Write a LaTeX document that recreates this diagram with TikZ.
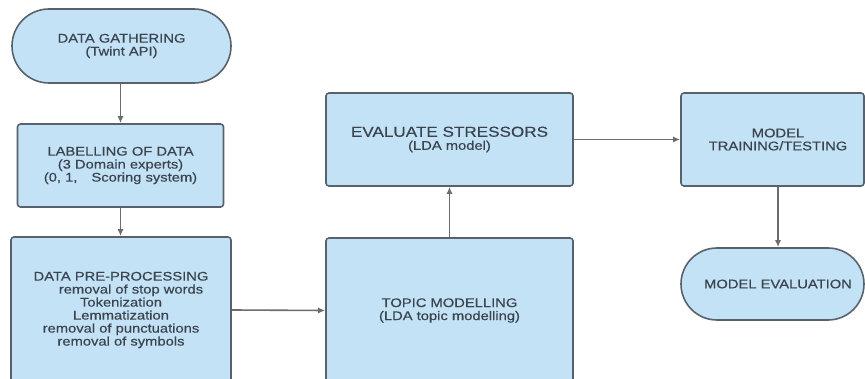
\documentclass[tikz,border=0pt]{standalone}
\usepackage{fontspec}
\setmainfont{Liberation Sans}[FakeStretch=1.18,FakeBold=0.4]
\usetikzlibrary{arrows.meta}
\definecolor{boxfill}{RGB}{196,226,245}
\definecolor{boxline}{RGB}{88,98,108}
\definecolor{txt}{RGB}{58,68,78}
\definecolor{arr}{RGB}{108,108,108}
\begin{document}
\begin{tikzpicture}[x=1pt,y=-1pt,
  box/.style={draw=boxline, fill=boxfill, line width=1.6pt, rounded corners=3pt,
    text=txt, align=center, font=\fontsize{12.5}{13}\selectfont, inner sep=0pt},
  pill/.style={box, rounded corners=#1},
  conn/.style={draw=arr, line width=1.6pt, -{Latex[length=7pt,width=6pt]}}]
\useasboundingbox (0,0) rectangle (865,379);
\clip (0,0) rectangle (865,379);

\node[pill=37pt, minimum width=219pt, minimum height=74pt] (gather) at (121.5,46)
  {DATA GATHERING\\(Twint API)};
\node[box, minimum width=206pt, minimum height=83pt] (label) at (120.5,165.5)
  {LABELLING OF DATA\\(3 Domain experts)\\(0, 1,\hspace{14pt}Scoring system)};
\node[box, minimum width=220pt, minimum height=146pt] (pre) at (121,310)
  {DATA PRE-PROCESSING\\\hspace*{20pt}removal of stop words\\Tokenization\\Lemmatization\\removal of punctuations\\removal of symbols};
\node[box, minimum width=247pt, minimum height=145pt] (topic) at (449.5,310.5)
  {TOPIC MODELLING\\(LDA topic modelling)};
\node[box, minimum width=247pt, minimum height=93pt] (stress) at (449.5,139.5)
  {{\fontsize{14.5}{13}\selectfont EVALUATE STRESSORS}\\(LDA model)};
\node[box, minimum width=183pt, minimum height=93pt] (train) at (772.5,139.5)
  {\hspace*{11pt}MODEL\\\hspace*{11pt}TRAINING/TESTING};
\node[pill=36pt, minimum width=183pt, minimum height=72pt] (evalm) at (772.5,284)
  {\hspace*{11pt}MODEL EVALUATION};

\draw[conn] (label.north |- gather.south) -- (label.north);
\draw[conn] (label.south) -- (pre.north -| label.south);
\draw[conn] (pre.east) -- (topic.west);
\draw[conn] (topic.north) -- (stress.south);
\draw[conn] (stress.east) -- (train.west);
\draw[conn] ([xshift=5.5pt]train.south) -- ([xshift=5.5pt]evalm.north);
\end{tikzpicture}
\end{document}
